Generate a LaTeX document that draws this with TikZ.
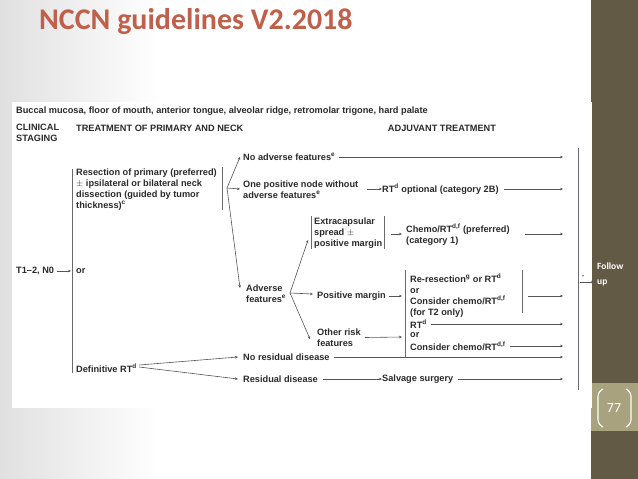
\documentclass[tikz,border=0pt]{standalone}
\usepackage{fontspec}
\setmainfont{Liberation Sans}
\newfontfamily\slidefont{Carlito}
\usetikzlibrary{positioning, arrows.meta}
\definecolor{strip}{HTML}{625A44}
\definecolor{tan}{HTML}{A9A27F}
\definecolor{titlered}{HTML}{C0604A}
\definecolor{ink}{HTML}{2A2A2A}
\tikzset{
    x=1pt, y=-1pt,
    >={Stealth[length=3pt,width=2.6pt]},       % small filled arrow heads
    txt/.style={anchor=west, inner sep=0pt, font=\fontsize{9.2}{11}\selectfont\bfseries, text=ink, align=left},
    wire/.style={draw=ink!80, line width=0.6pt},
    bar/.style={draw=ink!70, line width=0.8pt},
}
\begin{document}
\begin{tikzpicture}
\useasboundingbox (0,0) rectangle (638,479);
% slide background
\shade[left color=black!12, right color=white] (0,0) rectangle (160,479);
\fill[white] (160,0) rectangle (591,479);
\fill[strip] (591,0) rectangle (638,479);
\fill[tan] (591,383) rectangle (638,431);
\fill[white] (12,102) rectangle (592,408);

\node[anchor=west, inner sep=0pt, text=titlered, font=\slidefont\fontsize{30}{32}\selectfont\bfseries] (title) at (39,22) {NCCN guidelines V2.2018};

% headings
\node[txt] (site) at (16,111) {Buccal mucosa, floor of mouth, anterior tongue, alveolar ridge, retromolar trigone, hard palate};
\node[txt] (stage) at (16,133) {CLINICAL\\STAGING};
\node[txt] (treat) at (76,128) {TREATMENT OF PRIMARY AND NECK};
\node[txt, anchor=center] (adj) at (442,128) {ADJUVANT TREATMENT};

% primary treatment
\node[txt] (t12) at (16,271) {T1--2, N0};
\node[txt] (or0) at (76,271) {or};
\node[txt] (resect) at (76,189.5) {Resection of primary (preferred)\\$\pm$ ipsilateral or bilateral neck\\dissection (guided by tumor\\thickness)\textsuperscript{c}};
\node[txt] (defrt) at (76,368) {Definitive RT\textsuperscript{d}};
\draw[bar] (72,169) -- (72,373);
\draw[bar] (222,167) -- (222,210);
\draw[wire, ->] (t12.east) ++(3,0) -- (71,271);

% outcomes of resection
\coordinate (fork1) at (227,188);
\node[txt] (noadv) at (243,157) {No adverse features\textsuperscript{e}};
\node[txt] (onepos) at (243,189.5) {One positive node without\\adverse features\textsuperscript{e}};
\node[txt] (adv) at (246,293.5) {Adverse\\features\textsuperscript{e}};
\draw[wire, ->] (fork1) -- (240,157);
\draw[wire, ->] (fork1) -- (240,189);
\draw[wire, ->] (fork1) -- (240,288);
\draw[wire, ->] (noadv.east) ++(4,0) -- (563,157);
\node[txt] (rtopt) at (382,189) {RT\textsuperscript{d} optional (category 2B)};
\draw[wire, ->] (367,189) -- (rtopt.west);
\draw[wire, ->] (rtopt.east) ++(5,0) -- (563,189);

% adverse features
\coordinate (fork2) at (290,293);
\node[txt] (ece) at (314,233) {Extracapsular\\spread $\pm$\\positive margin};
\node[txt] (posm) at (317,296) {Positive margin};
\node[txt] (other) at (317,337.5) {Other risk\\features};
\draw[wire, ->] (fork2) -- (308,240);
\draw[wire, ->] (fork2) -- (313,294);
\draw[wire, ->] (fork2) -- (310,339);
\draw[bar] (311,216) -- (311,249);
\draw[bar] (ece.east) ++(2,-17) -- ++(0,33);

\node[txt] (chemo) at (406,235) {Chemo/RT\textsuperscript{d,f} (preferred)\\(category 1)};
\draw[wire, ->] (391,234) -- (402,234);
\draw[wire, ->] (525,234) -- (563,234);

\node[txt] (reres) at (410,296) {Re-resection\textsuperscript{g} or RT\textsuperscript{d}\\or\\Consider chemo/RT\textsuperscript{d,f}\\(for T2 only)};
\draw[bar] (405,270) -- (405,318);
\draw[bar] (522,270) -- (522,313);
\draw[wire, ->] (posm.east) ++(3,0) -- (402,296);
\draw[wire, ->] (528,296) -- (563,296);

\node[txt] (rtd) at (410,324) {RT\textsuperscript{d}};
\node[txt] (or1) at (410,335) {or};
\node[txt] (consid) at (410,346) {Consider chemo/RT\textsuperscript{d,f}};
\draw[bar] (405,318) -- (405,357);
\draw[wire, ->] (other.east) ++(4,0) -- (402,337);
\draw[wire, ->] (rtd.east) ++(4,0) -- (563,324);
\draw[wire, ->] (consid.east) ++(4,0) -- (563,346);

% definitive RT outcomes
\node[txt] (nores) at (243,357) {No residual disease};
\node[txt] (resid) at (243,379) {Residual disease};
\node[txt] (salv) at (382,379) {Salvage surgery};
\draw[wire, ->] (defrt.east) ++(2,-3) -- (238,357);
\draw[wire, ->] (defrt.east) ++(2,-1) -- (238,379);
\draw[wire, ->] (nores.east) ++(4,0) -- (563,357);
\draw[wire, ->] (resid.east) ++(5,0) -- (salv.west);
\draw[wire, ->] (salv.east) ++(5,0) -- (563,379);

% follow up
\draw[bar] (578,148) -- (578,390);
\node[font=\tiny, inner sep=0pt] (star) at (583,277) {*};
\draw[wire, ->] (580,282) -- (594,282);
\node[anchor=west, inner sep=0pt, text=white, align=left, font=\slidefont\fontsize{9.5}{15}\selectfont\bfseries] (follow) at (597,274) {Follow\\up};

% page number
\node[text=white, font=\slidefont\fontsize{14}{14}\selectfont] (page) at (614,408) {77};
\draw[white, line width=1.1pt, rounded corners=4pt] (603,389) -- (598,392) -- (598,424) -- (603,427);
\draw[white, line width=1.1pt, rounded corners=4pt] (626,389) -- (631,392) -- (631,424) -- (626,427);
\end{tikzpicture}
\end{document}
